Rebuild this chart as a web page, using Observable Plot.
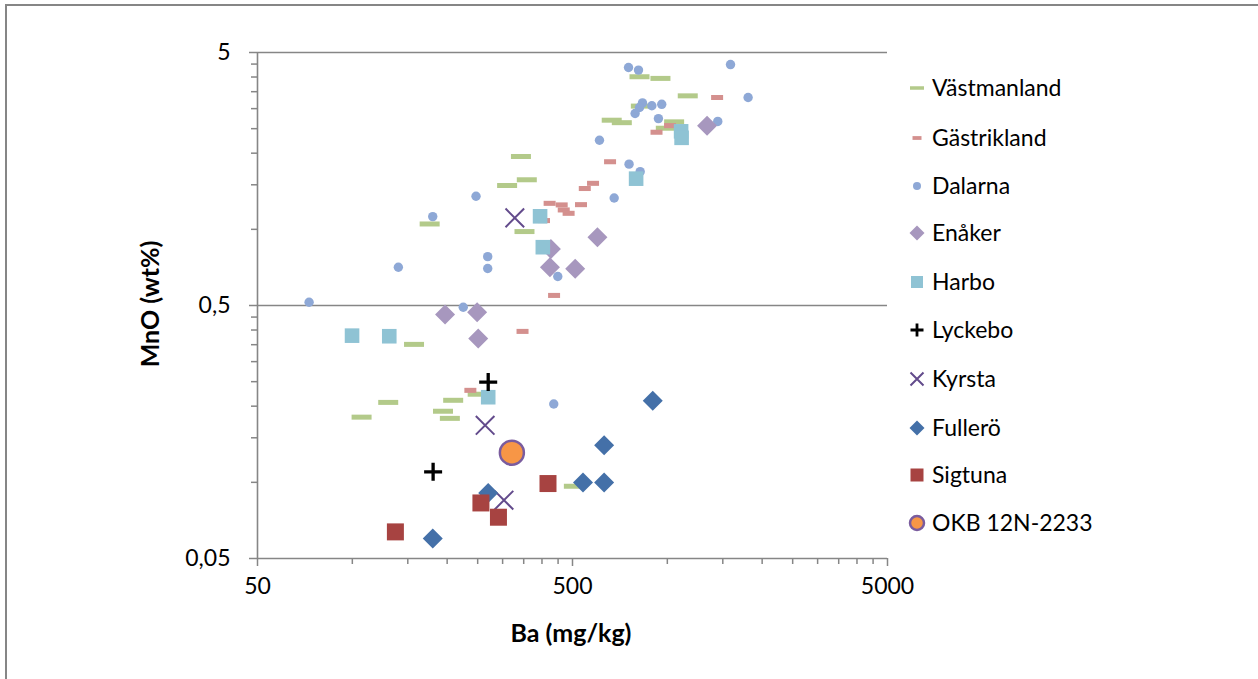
<!DOCTYPE html>
<html><head><meta charset="utf-8">
<script src="https://cdn.jsdelivr.net/npm/d3@7"></script>
<script src="https://cdn.jsdelivr.net/npm/@observablehq/plot@0.6"></script>
<style>
body{margin:0;background:#fff;}
#wrap{position:relative;width:1258px;height:679px;overflow:hidden;font-family:Lato,"Liberation Sans",sans-serif;background:#fff;}
#frame{position:absolute;left:5px;top:4px;width:1300px;height:720px;border:2px solid #868686;box-sizing:border-box;}
#chart{position:absolute;left:0;top:0;}
.title{position:absolute;font-weight:bold;font-size:25px;color:#000;white-space:nowrap;}
#xt{left:471px;width:200px;top:617px;text-align:center;}
#yt{left:49px;width:200px;top:289px;text-align:center;transform:rotate(-90deg);}
#legend{position:absolute;left:0;top:0;}
</style>
</head><body>
<div id="wrap">
<div id="frame"></div>
<div id="chart"></div>
<div class="title" id="xt">Ba (mg/kg)</div>
<div class="title" id="yt">MnO (wt%)</div>
<svg id="legend" width="1258" height="679"></svg>
</div>
<script>
// ---- data ----
const seriesNames = ["Västmanland","Gästrikland","Dalarna","Enåker","Harbo","Lyckebo","Kyrsta","Fullerö","Sigtuna","OKB 12N-2233"];

const vastmanlandBa  = [176, 343, 358, 310, 352, 816, 951, 1161, 666, 717, 824, 1051, 989, 157, 130, 107, 209, 194, 204, 250, 505];
const vastmanlandMnO = [1.05, 1.94, 1.57, 1.49, 0.98, 4.01, 3.95, 3.37, 2.70, 2.64, 3.07, 2.66, 2.51, 0.351, 0.207, 0.181, 0.211, 0.191, 0.179, 0.223, 0.0965];

const gastriklandBa  = [423, 462, 469, 486, 406, 437, 532, 547, 581, 658, 1439, 1020, 924, 347, 237];
const gastriklandMnO = [1.267, 1.249, 1.193, 1.157, 1.083, 0.548, 1.252, 1.45, 1.52, 1.85, 3.32, 2.57, 2.42, 0.395, 0.231];

const dalarnaBa  = [72.9, 140, 180, 247, 269, 269, 449, 225, 436, 753, 810, 1587, 1805, 834, 816, 790, 893, 960, 937, 1446, 609, 756, 820, 678];
const dalarnaMnO = [0.515, 0.708, 1.123, 1.351, 0.78, 0.70, 0.651, 0.492, 0.204, 4.36, 4.26, 4.48, 3.32, 3.16, 3.03, 2.87, 3.08, 3.12, 2.74, 2.67, 2.25, 1.81, 1.69, 1.33];

const enakerBa  = [427, 424, 510, 600, 1337, 197, 249, 251];
const enakerMnO = [0.837, 0.708, 0.698, 0.93, 2.57, 0.461, 0.47, 0.37];

const harboBa  = [394.5, 402.5, 1106, 1110, 796, 99.8, 131, 270];
const harboMnO = [1.126, 0.85, 2.44, 2.30, 1.586, 0.38, 0.378, 0.217];

const lyckeboBa  = [270, 180.5];
const lyckeboMnO = [0.249, 0.11];

const kyrstaBa  = [328, 264, 303];
const kyrstaMnO = [1.11, 0.168, 0.085];

const fulleroBa  = [270, 180, 899, 630, 540, 630];
const fulleroMnO = [0.0908, 0.060, 0.21, 0.14, 0.0998, 0.0998];

const sigtunaBa  = [418, 256, 291, 137];
const sigtunaMnO = [0.0989, 0.0829, 0.0728, 0.0637];

const okbBa  = [321];
const okbMnO = [0.131];

const xMajorTicks = [50, 500, 5000];
const xMinorTicks = [100,150,200,250,300,350,400,450,1000,1500,2000,2500,3000,3500,4000,4500];
const yMajorTicks = [0.05, 0.5, 5];
const yMinorTicks = [0.1,0.15,0.2,0.25,0.3,0.35,0.4,0.45,1,1.5,2,2.5,3,3.5,4,4.5];

// ---- symbols ----
const rOf = s => Math.sqrt(s/Math.PI);
const dashG = {draw(c,s){const r=rOf(s); c.rect(-r,-r*0.25,2*r,r*0.5);}};
const dashR = {draw(c,s){const r=rOf(s); c.rect(-r,-r*0.42,2*r,r*0.84);}};
const circ  = {draw(c,s){const r=rOf(s); c.moveTo(r,0); c.arc(0,0,r,0,2*Math.PI);}};
const diam  = {draw(c,s){const r=rOf(s); c.moveTo(0,-r); c.lineTo(r,0); c.lineTo(0,r); c.lineTo(-r,0); c.closePath();}};
const sq    = {draw(c,s){const r=rOf(s); c.rect(-r,-r,2*r,2*r);}};
const plus  = {draw(c,s){const r=rOf(s); c.moveTo(-r,0); c.lineTo(r,0); c.moveTo(0,-r); c.lineTo(0,r);}};
const times = {draw(c,s){const r=rOf(s); c.moveTo(-r,-r); c.lineTo(r,r); c.moveTo(r,-r); c.lineTo(-r,r);}};

const rows = (b, m) => b.map((v,i) => ({ba:v, mno:m[i]}));

const series = [
  {name:seriesNames[0], data:rows(vastmanlandBa,vastmanlandMnO), sym:dashG, r:10, lr:7,  fill:"#B3CA8A", stroke:"none", sw:0},
  {name:seriesNames[1], data:rows(gastriklandBa,gastriklandMnO), sym:dashR, r:6,  lr:4.5,fill:"#D4908E", stroke:"none", sw:0},
  {name:seriesNames[2], data:rows(dalarnaBa,dalarnaMnO),         sym:circ,  r:4.7,lr:4,  fill:"#8EA8D6", stroke:"none", sw:0},
  {name:seriesNames[3], data:rows(enakerBa,enakerMnO),           sym:diam,  r:10, lr:7.5,fill:"#A797BE", stroke:"none", sw:0},
  {name:seriesNames[4], data:rows(harboBa,harboMnO),             sym:sq,    r:7.3,lr:6,  fill:"#8FC3D4", stroke:"none", sw:0},
  {name:seriesNames[5], data:rows(lyckeboBa,lyckeboMnO),         sym:plus,  r:9,  lr:6.5,fill:"none", stroke:"#000", sw:3.3},
  {name:seriesNames[6], data:rows(kyrstaBa,kyrstaMnO),           sym:times, r:9.3,lr:6.5,fill:"none", stroke:"#634B8C", sw:2},
  {name:seriesNames[7], data:rows(fulleroBa,fulleroMnO),         sym:diam,  r:10, lr:7.5,fill:"#4470A8", stroke:"none", sw:0},
  {name:seriesNames[8], data:rows(sigtunaBa,sigtunaMnO),         sym:sq,    r:8.5,lr:6.5,fill:"#A74341", stroke:"none", sw:0},
  {name:seriesNames[9], data:rows(okbBa,okbMnO),                 sym:circ,  r:12, lr:7,  fill:"#F79646", stroke:"#7A5C9E", sw:2.5}
];

const gray = "#868686";
const fmt = d => String(d).replace(".", ",");

const chart = Plot.plot({
  width: 1258, height: 679,
  marginLeft: 257, marginRight: 371, marginTop: 52, marginBottom: 121,
  style: {fontFamily: "Lato, 'Liberation Sans', sans-serif", fontSize: "23px", background: "transparent", color: "#000", overflow: "visible"},
  x: {type: "log", domain: [50, 5000]},
  y: {type: "log", domain: [0.05, 5]},
  marks: [
    Plot.ruleY(yMajorTicks.slice(1), {stroke: gray, strokeWidth: 1.6}),
    Plot.axisY(yMinorTicks, {anchor: "left", tickSize: 6, tickFormat: () => "", stroke: gray, strokeWidth: 1.5, label: null}),
    Plot.axisY(yMajorTicks, {anchor: "left", tickSize: 8, tickPadding: 19, tickFormat: fmt, stroke: gray, strokeWidth: 1.5, fill: "#000", fontSize: 23, label: null}),
    Plot.axisX(xMinorTicks, {anchor: "bottom", tickSize: 6, tickFormat: () => "", stroke: gray, strokeWidth: 1.5, label: null}),
    Plot.axisX(xMajorTicks, {anchor: "bottom", tickSize: 8, tickFormat: () => "", stroke: gray, strokeWidth: 1.5, label: null}),
    Plot.text(xMajorTicks, {x: d => d, text: fmt, frameAnchor: "bottom", dy: 35, fontSize: 23, fill: "#000"}),
    Plot.ruleX([50], {stroke: gray, strokeWidth: 1.6}),
    Plot.ruleY([0.05], {stroke: gray, strokeWidth: 1.6}),
    ...series.map(s => Plot.dot(s.data, {x: "ba", y: "mno", symbol: s.sym, r: s.r, fill: s.fill, stroke: s.stroke, strokeWidth: s.sw}))
  ]
});
document.getElementById("chart").appendChild(chart);

// ---- legend ----
const lg = d3.select("#legend");
const legendY = [88, 138, 186, 233, 282, 330, 379, 428, 475, 523];
series.forEach((s, i) => {
  const g = lg.append("g").attr("transform", `translate(917,${legendY[i]})`);
  const p = d3.path(); s.sym.draw(p, s.lr*s.lr*Math.PI);
  g.append("path").attr("d", p.toString()).attr("fill", s.fill).attr("stroke", s.stroke).attr("stroke-width", s.sw ? Math.min(s.sw, 2.8) : 0);
  lg.append("text").attr("x", 932).attr("y", legendY[i]).attr("dy", "0.35em")
    .attr("font-family", "Lato, 'Liberation Sans', sans-serif").attr("font-size", 23).attr("fill", "#000").text(s.name);
});
</script>
</body></html>
